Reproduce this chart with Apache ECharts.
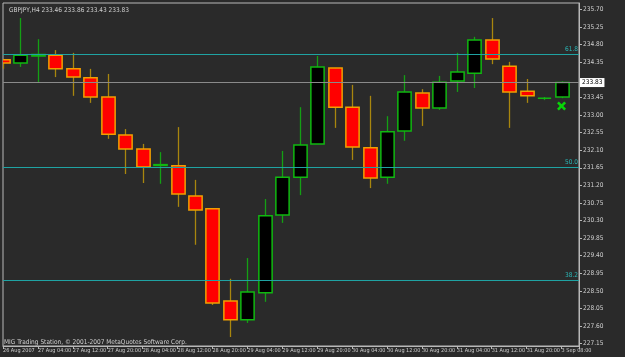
<!DOCTYPE html>
<html>
<head>
<meta charset="utf-8">
<script src="https://cdn.jsdelivr.net/npm/echarts@6/dist/echarts.min.js"></script>
<style>
html, body { margin: 0; padding: 0; background: #2a2a2a; }
#chart { width: 625px; height: 357px; }
</style>
</head>
<body>
<div id="chart"></div>
<script>
// GBPJPY H4 bars
var categories = ['26 Aug 2007', '27 Aug 00:00', '27 Aug 04:00', '27 Aug 08:00', '27 Aug 12:00', '27 Aug 16:00',
    '27 Aug 20:00', '28 Aug 00:00', '28 Aug 04:00', '28 Aug 08:00', '28 Aug 12:00', '28 Aug 16:00',
    '28 Aug 20:00', '29 Aug 00:00', '29 Aug 04:00', '29 Aug 08:00', '29 Aug 12:00', '29 Aug 16:00',
    '29 Aug 20:00', '30 Aug 00:00', '30 Aug 04:00', '30 Aug 08:00', '30 Aug 12:00', '30 Aug 16:00',
    '30 Aug 20:00', '31 Aug 00:00', '31 Aug 04:00', '31 Aug 08:00', '31 Aug 12:00', '31 Aug 16:00',
    '31 Aug 20:00', '3 Sep 04:00', '3 Sep 08:00', '3 Sep 12:00'];
var opens = [234.41, 234.33, 234.51, 234.53, 234.18, 233.95, 233.46, 232.49, 232.13, 231.71, 231.70,
    230.93, 230.60, 228.24, 227.76, 228.45, 230.44, 231.41, 232.26, 234.20, 233.20, 232.16, 231.41,
    232.59, 233.56, 233.18, 233.87, 234.07, 234.92, 234.25, 233.61, 233.43, 233.46];
var closes = [234.33, 234.53, 234.55, 234.18, 233.97, 233.46, 232.51, 232.13, 231.67, 231.73, 230.98,
    230.57, 228.19, 227.76, 228.47, 230.42, 231.41, 232.23, 234.23, 233.20, 232.18, 231.39, 232.57,
    233.59, 233.18, 233.84, 234.10, 234.92, 234.43, 233.59, 233.49, 233.43, 233.83];
var highs = [234.43, 235.48, 234.94, 234.66, 234.59, 234.18, 234.05, 232.64, 232.26, 232.05, 232.69,
    231.34, 230.60, 228.81, 229.34, 230.85, 232.08, 233.20, 234.51, 234.20, 233.77, 233.49, 232.97,
    234.02, 233.66, 234.00, 234.59, 235.00, 235.48, 234.36, 233.92, 233.46, 233.86];
var lows = [234.18, 234.23, 233.82, 233.97, 233.49, 233.31, 232.39, 231.49, 231.26, 231.24, 230.65,
    229.68, 228.14, 227.32, 227.68, 228.22, 230.24, 230.95, 232.26, 232.67, 231.85, 231.13, 231.24,
    232.34, 232.72, 233.13, 233.59, 233.69, 234.30, 232.67, 233.31, 233.38, 233.43];
var priceTicks = [227.15, 227.60, 228.05, 228.50, 228.95, 229.40, 229.85, 230.30, 230.75, 231.20,
    231.65, 232.10, 232.55, 233.00, 233.45, 234.35, 234.80, 235.25, 235.70];
var fibLevels = [228.78, 231.67, 234.56];
var fibNames = ['38.2', '50.0', '61.8'];
var bidPrice = 233.83;
var signals = [[32, 233.23]];

var font = '"Liberation Sans Narrow", "DejaVu Sans Condensed", sans-serif';
var txt = '#d0d0d0';
var teal = '#1fa3a3';

var candleData = opens.map(function (o, i) {
    return [i, o, closes[i], lows[i], highs[i]];
});

function renderCandle(params, api) {
    var i = api.value(0), o = api.value(1), c = api.value(2), l = api.value(3), h = api.value(4);
    var pO = api.coord([i, o]), pC = api.coord([i, c]);
    var pL = api.coord([i, l]), pH = api.coord([i, h]);
    var w = api.size([1, 0])[0] * 0.76;
    var up = c >= o;
    var top = Math.min(pO[1], pC[1]), bot = Math.max(pO[1], pC[1]);
    var x = Math.round(pO[0]) + 0.5;
    return {
        type: 'group',
        children: [
            {type: 'line', shape: {x1: x, y1: pH[1], x2: x, y2: pL[1]},
             style: {stroke: up ? '#14a014' : '#a8860e', lineWidth: 1.3}},
            {type: 'rect', shape: {x: x - w / 2, y: top, width: w, height: bot - top},
             style: {fill: up ? '#000' : '#ff0000', stroke: up ? '#10b810' : '#f0a000', lineWidth: 1.5}}
        ]
    };
}

var myChart = echarts.init(document.getElementById('chart'));
myChart.setOption({
    backgroundColor: '#2a2a2a',
    animation: false,
    title: {
        text: 'GBPJPY,H4 233.46 233.86 233.43 233.83',
        left: 4, top: 2,
        textStyle: {color: txt, fontSize: 6.5, fontWeight: 'normal', fontFamily: font}
    },
    graphic: [{
        type: 'text', left: 4, top: 339,
        style: {text: 'MIG Trading Station, © 2001-2007 MetaQuotes Software Corp.',
                fill: txt, fontSize: 6.5, fontFamily: font}
    }],
    grid: {left: 1.5, right: 46, top: 3, bottom: 11, show: true, borderColor: '#b8b8b8', borderWidth: 1},
    xAxis: {
        type: 'category',
        data: categories,
        boundaryGap: false,
        axisLine: {lineStyle: {color: '#b8b8b8'}},
        axisTick: {show: true, interval: 1, length: 3, lineStyle: {color: '#b8b8b8'}},
        axisLabel: {interval: 1, align: 'left', margin: 2, color: txt, fontSize: 5.5, fontFamily: font,
                    hideOverlap: false, showMinLabel: true, showMaxLabel: true,
                    formatter: function (v, idx) { return idx < opens.length ? v : ''; }},
        splitLine: {show: false}
    },
    yAxis: {
        type: 'value',
        position: 'right',
        min: 227.09,
        max: 235.865,
        axisLine: {show: true, lineStyle: {color: '#b8b8b8'}},
        axisTick: {show: true, length: 3, customValues: priceTicks, lineStyle: {color: '#b8b8b8'}},
        axisLabel: {customValues: priceTicks, margin: 4, color: txt, fontSize: 6.5, fontFamily: font,
                    formatter: function (v) { return v.toFixed(2); }},
        splitLine: {show: false}
    },
    series: [{
        type: 'custom',
        renderItem: renderCandle,
        data: candleData,
        encode: {x: 0, y: [1, 2, 3, 4]},
        clip: true,
        markLine: {
            silent: true,
            symbol: 'none',
            animation: false,
            data: fibLevels.map(function (v, k) {
                return {yAxis: v, lineStyle: {color: teal, width: 1, type: 'solid'},
                        label: {show: true, position: 'insideEndTop', formatter: fibNames[k],
                                color: '#2ab8b8', fontSize: 6.5, fontFamily: font, distance: 1}};
            }).concat([{
                yAxis: bidPrice, lineStyle: {color: '#8a8a8a', width: 1, type: 'solid'},
                label: {show: true, position: 'end', formatter: bidPrice.toFixed(2), distance: 1,
                        backgroundColor: '#ffffff', color: '#000', padding: [1, 2],
                        fontSize: 6.5, fontFamily: font}
            }])
        }
    }, {
        type: 'scatter',
        data: signals,
        symbol: 'path://M0,2L2,0L5,3L8,0L10,2L7,5L10,8L8,10L5,7L2,10L0,8L3,5Z',
        symbolSize: 9,
        itemStyle: {color: '#00ff00'}
    }]
});
window.addEventListener('resize', myChart.resize);
</script>
</body>
</html>
